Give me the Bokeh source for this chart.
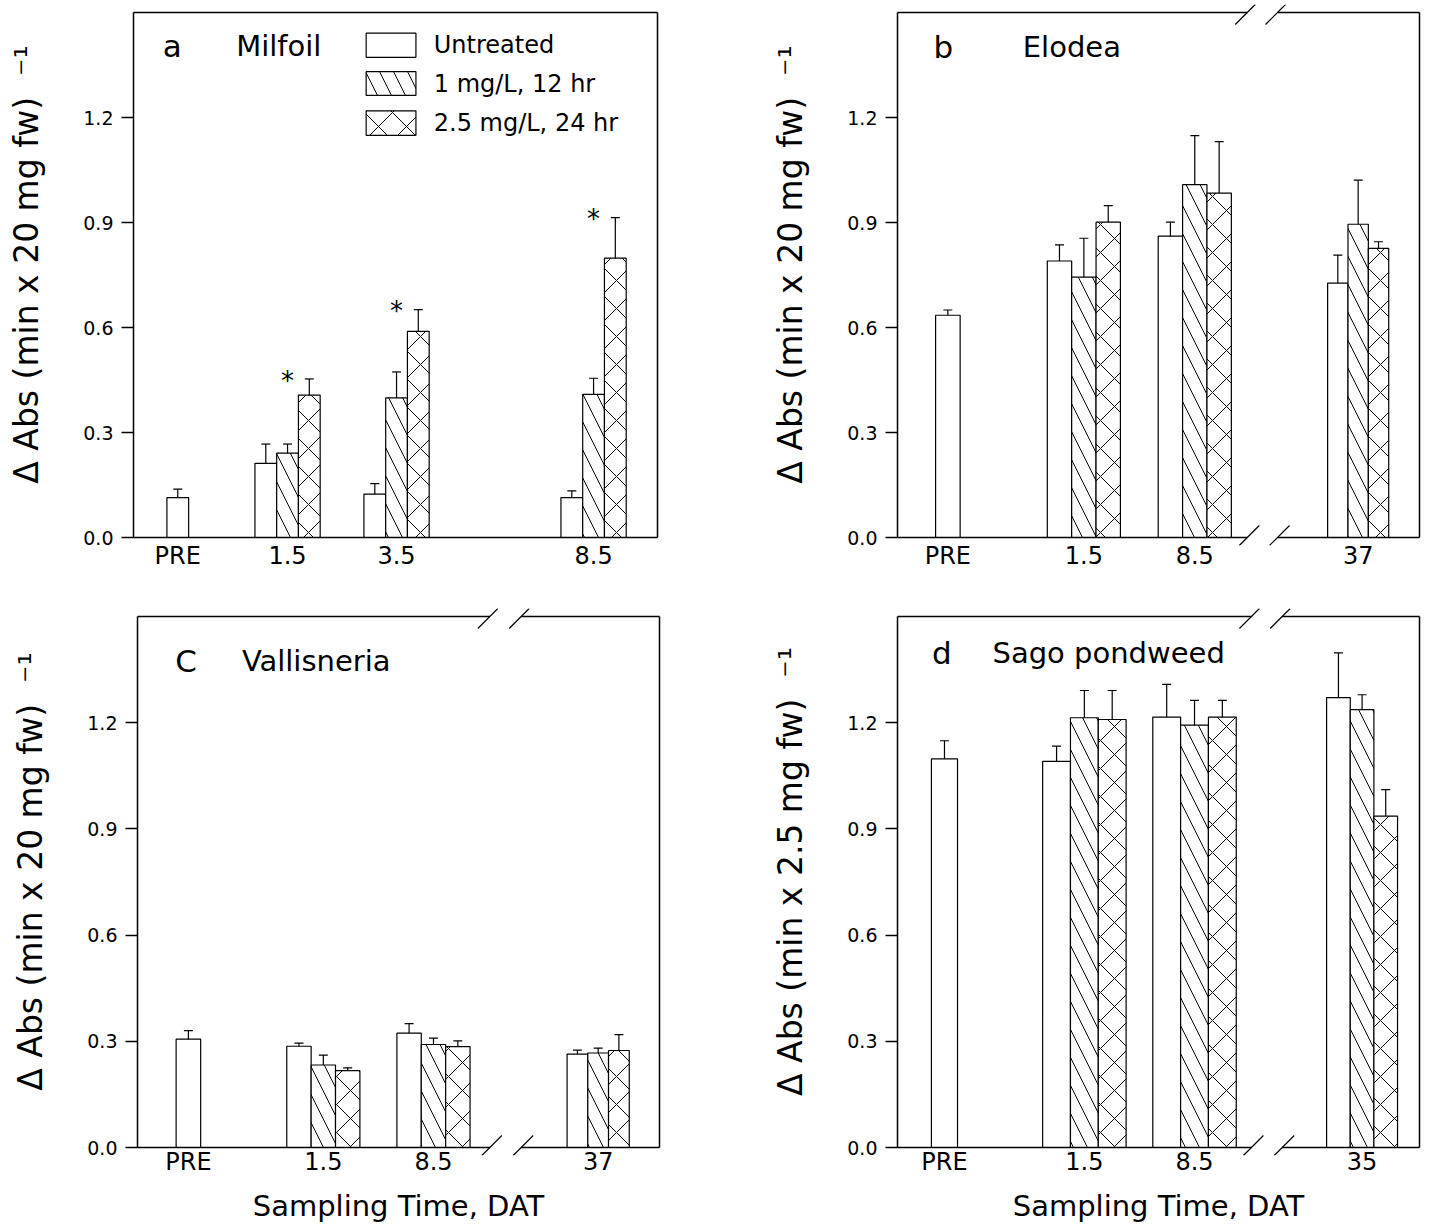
import math
from bokeh.plotting import figure
from bokeh.models import (Range1d, FixedTicker, PrintfTickFormatter, CustomJSTickFormatter,
                          Whisker, TeeHead, ColumnDataSource)
from bokeh.layouts import column, row
from bokeh.embed import file_html
from bokeh.resources import INLINE
from bokeh.core.properties import value

NAN = float("nan")
FONT = "DejaVu Sans"

# ---------------- data ----------------
treatments = ["Untreated", "1 mg/L, 12 hr", "2.5 mg/L, 24 hr"]
y_ticks = [0.0, 0.3, 0.6, 0.9, 1.2]

milfoil_times = ["PRE", "1.5", "3.5", "8.5"]
milfoil_untreated    = [0.114, 0.212, 0.124, 0.114]
milfoil_untreated_se = [0.024, 0.055, 0.030, 0.019]
milfoil_1mg          = [NAN, 0.241, 0.399, 0.409]
milfoil_1mg_se       = [NAN, 0.026, 0.074, 0.046]
milfoil_25mg         = [NAN, 0.407, 0.589, 0.798]
milfoil_25mg_se      = [NAN, 0.046, 0.062, 0.116]
milfoil_significant  = [False, True, True, True]

elodea_times = ["PRE", "1.5", "8.5", "37"]
elodea_untreated    = [0.635, 0.790, 0.861, 0.727]
elodea_untreated_se = [0.015, 0.046, 0.040, 0.080]
elodea_1mg          = [NAN, 0.744, 1.008, 0.895]
elodea_1mg_se       = [NAN, 0.111, 0.140, 0.126]
elodea_25mg         = [NAN, 0.901, 0.984, 0.826]
elodea_25mg_se      = [NAN, 0.047, 0.147, 0.019]
elodea_significant  = [False, False, False, False]

vallisneria_times = ["PRE", "1.5", "8.5", "37"]
vallisneria_untreated    = [0.306, 0.286, 0.323, 0.264]
vallisneria_untreated_se = [0.024, 0.009, 0.027, 0.011]
vallisneria_1mg          = [NAN, 0.233, 0.291, 0.267]
vallisneria_1mg_se       = [NAN, 0.028, 0.018, 0.014]
vallisneria_25mg         = [NAN, 0.217, 0.285, 0.274]
vallisneria_25mg_se      = [NAN, 0.008, 0.016, 0.045]
vallisneria_significant  = [False, False, False, False]

sago_times = ["PRE", "1.5", "8.5", "35"]
sago_untreated    = [1.098, 1.091, 1.216, 1.271]
sago_untreated_se = [0.051, 0.043, 0.092, 0.126]
sago_1mg          = [NAN, 1.214, 1.193, 1.237]
sago_1mg_se       = [NAN, 0.077, 0.070, 0.042]
sago_25mg         = [NAN, 1.209, 1.216, 0.936]
sago_25mg_se      = [NAN, 0.082, 0.047, 0.075]
sago_significant  = [False, False, False, False]

# ---------------- layout / style ----------------
HATCH = [None, "\\", "x"]
Y_MAX = 1.5
PAD_SIDE = 2      # px of frame beyond the drawn left/right border
PAD_TOP = 8       # px of frame above the drawn top border
PAD_BOT = 8       # px of frame below the drawn bottom border
NB = "\u00a0"

LAYOUT = {
    "a": dict(iw=524, ih=525, bl=131, br=105, bt=4, bb=55, tick_sd=-4,
              centers=[8.45, 29.4, 50.2, 87.8], widths=[4.15, 4.15, 4.15, 4.15],
              brk=None, letter_x=7.4, title_x=19.6, text_y=1.405),
    "b": dict(iw=522, ih=525, bl=131, br=6, bt=4, bb=55, tick_sd=-4,
              centers=[9.65, 35.7, 56.95, 88.25], widths=[4.7, 4.67, 4.67, 3.9],
              brk=(67.0, 72.8), letter_x=8.8, title_x=24.0, text_y=1.402),
    "c": dict(iw=522, ih=531, bl=135, br=103, bt=8, bb=66, tick_sd=-8,
              centers=[9.75, 35.6, 56.7, 88.25], widths=[4.7, 4.67, 4.67, 3.97],
              brk=(67.5, 73.5), letter_x=9.3, title_x=20.0, text_y=1.373),
    "d": dict(iw=522, ih=531, bl=131, br=6, bt=8, bb=66, tick_sd=-8,
              centers=[9.0, 35.8, 56.9, 89.0], widths=[5.0, 5.33, 5.33, 4.53],
              brk=(67.8, 73.7), letter_x=8.5, title_x=18.2, text_y=1.398),
}

FMT_CODE = """
let best = -1, bd = 1e9;
for (let i = 0; i < pos.length; i++) {
  const d = Math.abs(pos[i] - tick);
  if (d < bd) { bd = d; best = i; }
}
return bd < 1e-6 ? labels[best] : "";
"""


def ylab(body):
    return NB + NB + "\u0394 Abs (" + body + ")" + NB + NB + "\u207b\u00b9"


def make_panel(key, letter, name, times, means, ses, signif, ylabel, show_xlabel, legend=False):
    lay = LAYOUT[key]
    iw, ih = lay["iw"], lay["ih"]
    ux = 100.0 / iw
    uy = Y_MAX / ih
    p = figure(frame_width=iw + 2 * PAD_SIDE, frame_height=ih + PAD_TOP + PAD_BOT,
               x_range=Range1d(-PAD_SIDE * ux, 100 + PAD_SIDE * ux),
               y_range=Range1d(-PAD_BOT * uy, Y_MAX + PAD_TOP * uy),
               output_backend="svg", toolbar_location=None,
               min_border_left=lay["bl"], min_border_right=lay["br"],
               min_border_top=lay["bt"], min_border_bottom=lay["bb"])
    p.grid.visible = False
    p.outline_line_color = None
    p.background_fill_color = "white"
    p.border_fill_color = "white"

    centers, widths = lay["centers"], lay["widths"]
    wx, wl, wu = [], [], []
    for j in range(3):
        xs, tops, ws = [], [], []
        for i in range(len(times)):
            if math.isnan(means[j][i]):
                continue
            present = [k for k in range(3) if not math.isnan(means[k][i])]
            slot = present.index(j)
            x = centers[i] + (slot - (len(present) - 1) / 2.0) * widths[i]
            xs.append(x)
            tops.append(means[j][i])
            ws.append(widths[i])
            wx.append(x)
            wl.append(means[j][i])
            wu.append(means[j][i] + ses[j][i])
        kw = dict(fill_color="white", line_color="black", line_width=1.2)
        if HATCH[j]:
            kw.update(hatch_pattern=HATCH[j], hatch_color="black", hatch_scale=28, hatch_weight=1)
        p.vbar(x=xs, top=tops, bottom=0, width=ws, **kw)

    wsrc = ColumnDataSource(dict(x=wx, lower=wl, upper=wu))
    p.add_layout(Whisker(source=wsrc, base="x", lower="lower", upper="upper", dimension="height",
                         lower_head=None,
                         upper_head=TeeHead(size=9, line_width=1.2, line_color="black"),
                         line_width=1.2, line_color="black", level="glyph"))

    # significance asterisks
    ax, ay = [], []
    for i in range(len(times)):
        if signif[i]:
            tops = [means[k][i] + ses[k][i] for k in range(3) if not math.isnan(means[k][i])]
            ax.append(centers[i])
            ay.append(max(tops) - 0.005)
    if ax:
        p.text(x=ax, y=ay, text=["*"] * len(ax), text_font=value(FONT), text_font_size="26px",
               text_align="center", text_baseline="alphabetic", text_color="black")

    # panel letter and name
    p.text(x=[lay["letter_x"]], y=[lay["text_y"]], text=[letter], text_font=value(FONT),
           text_font_size="31px", text_align="center", text_baseline="middle", text_color="black")
    p.text(x=[lay["title_x"]], y=[lay["text_y"]], text=[name], text_font=value(FONT),
           text_font_size="29px", text_align="left", text_baseline="middle", text_color="black")

    if legend:
        box_l, box_r = 44.4, 53.9
        rows_y = [(1.372, 1.441), (1.263, 1.331), (1.149, 1.219)]
        for j in range(3):
            kw = dict(fill_color="white", line_color="black", line_width=1.2)
            if HATCH[j]:
                kw.update(hatch_pattern=HATCH[j], hatch_color="black", hatch_scale=28, hatch_weight=1)
            p.quad(left=[box_l], right=[box_r], bottom=[rows_y[j][0]], top=[rows_y[j][1]], **kw)
        p.text(x=[57.3] * 3, y=[(b + t) / 2 for b, t in rows_y], text=treatments,
               text_font=value(FONT), text_font_size="24px", text_align="left",
               text_baseline="middle", text_color="black")

    # frame border with optional axis break
    brk = lay["brk"]
    sx0, sy0, sx1, sy1 = [], [], [], []

    def add(x0, y0, x1, y1):
        sx0.append(x0); sy0.append(y0); sx1.append(x1); sy1.append(y1)

    add(0, 0, 0, Y_MAX)
    add(100, 0, 100, Y_MAX)
    if brk is None:
        add(0, 0, 100, 0)
        add(0, Y_MAX, 100, Y_MAX)
    else:
        b1, b2 = brk
        add(0, 0, b1, 0)
        add(b2, 0, 100, 0)
        add(0, Y_MAX, b1, Y_MAX)
        add(b2, Y_MAX, 100, Y_MAX)
    p.segment(x0=sx0, y0=sy0, x1=sx1, y1=sy1, line_color="black", line_width=1.5)
    if brk is not None:
        tx0, ty0, tx1, ty1 = [], [], [], []
        for bx in brk:
            # bottom slash (crosses the bottom border)
            tx0.append(bx - 8 * ux); ty0.append(-8 * uy)
            tx1.append(bx + 12 * ux); ty1.append(12 * uy)
            # top slash (crosses the top border)
            tx0.append(bx - 12 * ux); ty0.append(Y_MAX - 12 * uy)
            tx1.append(bx + 8 * ux); ty1.append(Y_MAX + 8 * uy)
        p.segment(x0=tx0, y0=ty0, x1=tx1, y1=ty1, line_color="black", line_width=1.2)

    # axes
    yax = p.yaxis[0]
    yax.ticker = FixedTicker(ticks=y_ticks)
    yax.formatter = PrintfTickFormatter(format="%.1f")
    yax.axis_line_color = None
    yax.major_tick_out = 10
    yax.major_tick_in = PAD_SIDE
    yax.minor_tick_line_color = None
    yax.major_tick_line_width = 1.3
    yax.major_label_text_font = FONT
    yax.major_label_text_font_size = "19px"
    yax.major_label_text_color = "black"
    yax.major_label_standoff = 8
    yax.axis_label = ylabel
    yax.axis_label_text_font = FONT
    yax.axis_label_text_font_size = "33px"
    yax.axis_label_text_font_style = "normal"
    yax.axis_label_text_color = "black"
    yax.axis_label_standoff = 34

    xax = p.xaxis[0]
    xax.ticker = FixedTicker(ticks=centers)
    xax.formatter = CustomJSTickFormatter(args=dict(pos=centers, labels=times), code=FMT_CODE)
    xax.axis_line_color = None
    xax.major_tick_line_color = None
    xax.major_tick_out = 0
    xax.major_tick_in = 0
    xax.minor_tick_line_color = None
    xax.major_label_text_font = FONT
    xax.major_label_text_font_size = "24px"
    xax.major_label_text_color = "black"
    xax.major_label_standoff = lay["tick_sd"]
    if show_xlabel:
        xax.axis_label = "Sampling Time, DAT"
        xax.axis_label_text_font = FONT
        xax.axis_label_text_font_size = "29px"
        xax.axis_label_text_font_style = "normal"
        xax.axis_label_text_color = "black"
        xax.axis_label_standoff = 10
    return p


pa = make_panel("a", "a", "Milfoil", milfoil_times,
                [milfoil_untreated, milfoil_1mg, milfoil_25mg],
                [milfoil_untreated_se, milfoil_1mg_se, milfoil_25mg_se],
                milfoil_significant, ylab("min x 20 mg fw"), False, legend=True)
pb = make_panel("b", "b", "Elodea", elodea_times,
                [elodea_untreated, elodea_1mg, elodea_25mg],
                [elodea_untreated_se, elodea_1mg_se, elodea_25mg_se],
                elodea_significant, ylab("min x 20 mg fw"), False)
pc = make_panel("c", "C", "Vallisneria", vallisneria_times,
                [vallisneria_untreated, vallisneria_1mg, vallisneria_25mg],
                [vallisneria_untreated_se, vallisneria_1mg_se, vallisneria_25mg_se],
                vallisneria_significant, ylab("min x 20 mg fw"), True)
pd = make_panel("d", "d", "Sago pondweed", sago_times,
                [sago_untreated, sago_1mg, sago_25mg],
                [sago_untreated_se, sago_1mg_se, sago_25mg_se],
                sago_significant, ylab("min x 2.5 mg fw"), True)

layout = column(row(pa, pb), row(pc, pd))
open("out.html", "w").write(file_html(layout, INLINE))
